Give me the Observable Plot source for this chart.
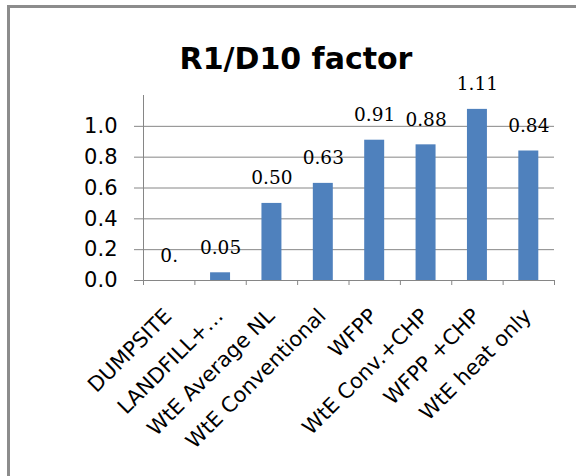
<!DOCTYPE html>
<html>
<head>
<meta charset="utf-8">
<script src="https://cdn.jsdelivr.net/npm/d3@7"></script>
<script src="https://cdn.jsdelivr.net/npm/@observablehq/plot@0.6"></script>
<style>
  html, body { margin: 0; padding: 0; background: #fff; }
  #wrap { position: relative; width: 576px; height: 476px; overflow: hidden; }
  #frame { position: absolute; left: 7px; top: 5px; width: 700px; height: 700px;
           border-left: 3px solid #8c8c8c; border-top: 3px solid #8c8c8c; box-sizing: border-box; }
  #title { position: relative; margin: 0; padding: 41px 0 0 16px; height: 31px; line-height: 31px;
           text-align: center; font: bold 30px "DejaVu Sans", sans-serif; color: #000; box-sizing: content-box; }
  #chart { position: relative; }
</style>
</head>
<body>
<div id="wrap">
  <div id="frame"></div>
  <div id="title">R1/D10 factor</div>
  <div id="chart"></div>
</div>
<script>
const categories = ["DUMPSITE", "LANDFILL+\u2026", "WtE Average NL", "WtE Conventional", "WFPP", "WtE Conv.+CHP", "WFPP +CHP", "WtE heat only"];
const values = [0, 0.05, 0.50, 0.63, 0.91, 0.88, 1.11, 0.84];
const valueLabels = ["0.", "0.05", "0.50", "0.63", "0.91", "0.88", "1.11", "0.84"];
const yTicks = [0, 0.2, 0.4, 0.6, 0.8, 1.0];

const data = categories.map((c, i) => ({cat: c, i, value: values[i], label: valueLabels[i]}));
const bounds = categories.map((c, i) => i).concat([categories.length]);

const gray = "#868686";
const chart = Plot.plot({
  width: 576,
  height: 404,
  marginTop: 23,
  marginBottom: 196,
  marginLeft: 143,
  marginRight: 22,
  x: {type: "linear", domain: [0, categories.length], axis: null},
  y: {domain: [0, 1.2], axis: null},
  style: {background: "transparent", overflow: "visible"},
  marks: [
    Plot.gridY(yTicks, {stroke: gray, strokeOpacity: 1}),
    Plot.rectY(data, {x1: "i", x2: d => d.i + 1, y: "value", fill: "#4F81BD", insetLeft: 15.7, insetRight: 15.7}),
    Plot.axisY(yTicks, {tickFormat: d3.format(".1f"), tickSize: 9, tickPadding: 17, stroke: gray, label: null,
      fontSize: 21, fontFamily: "DejaVu Sans", fill: "#000"}),
    Plot.axisX(bounds, {tickFormat: () => "", tickSize: 5, stroke: gray, label: null}),
    Plot.ruleY([0], {stroke: gray}),
    Plot.ruleX([0], {stroke: gray}),
    Plot.text(data, {x: d => d.i + 0.5, y: "value", text: "label", dy: -19, lineAnchor: "bottom",
      fontFamily: "DejaVu Serif", fontSize: 18.5, fill: "#000"}),
    Plot.text(data, {x: d => d.i + 0.5, y: 0, text: "cat", rotate: -45, textAnchor: "end", lineAnchor: "middle",
      dx: -1, dy: 32, fontFamily: "DejaVu Sans", fontSize: 21, fill: "#000"})
  ]
});
document.getElementById("chart").appendChild(chart);
</script>
</body>
</html>
